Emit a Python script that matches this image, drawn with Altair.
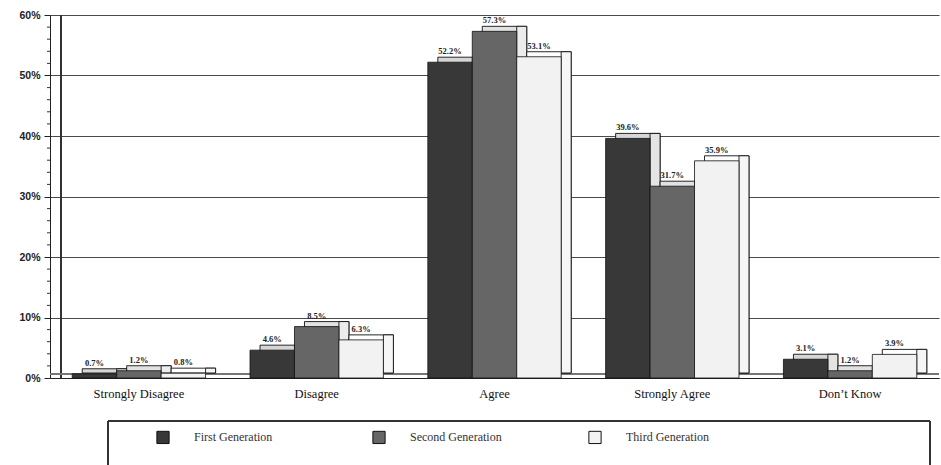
import altair as alt
import pandas as pd

# Survey responses by immigrant generation (percent of respondents)
categories = ["Strongly Disagree", "Disagree", "Agree", "Strongly Agree", "Don\u2019t Know"]
series = ["First Generation", "Second Generation", "Third Generation"]
first_gen = [0.7, 4.6, 52.2, 39.6, 3.1]
second_gen = [1.2, 8.5, 57.3, 31.7, 1.2]
third_gen = [0.8, 6.3, 53.1, 35.9, 3.9]
major_ticks = [0, 10, 20, 30, 40, 50, 60]
minor_ticks = [v for v in range(0, 61, 2) if v % 10]

# Shading for the pseudo-3D boxes: front face, top face, side face
front_colors = ["#383838", "#666666", "#f2f2f2"]
top_colors = ["#d6d6d6", "#e2e2e2", "#ffffff"]
side_colors = ["#e4e4e4", "#ececec", "#f6f6f6"]

rows = []
for s, vals in zip(series, [first_gen, second_gen, third_gen]):
    for c, v in zip(categories, vals):
        rows.append({"category": c, "series": s, "value": v, "label": f"{v}%"})
df = pd.DataFrame(rows)
ticks_df = pd.DataFrame({"tick": minor_ticks})

W, H = 889, 363
DEPTH_X, DEPTH_Y = 10, -5
STEP = W / (5 - 0.25 + 0.25)
SUB = STEP * 0.75 / 3  # width of one bar within a group

x_enc = alt.X(
    "category:N",
    sort=categories,
    scale=alt.Scale(paddingInner=0.25, paddingOuter=0.125),
    axis=alt.Axis(
        title=None,
        labelAngle=0,
        labelFont="Liberation Serif",
        labelFontSize=12.5,
        labelColor="#111",
        labelPadding=9,
        ticks=False,
        domainColor="#222",
        domainWidth=1.2,
    ),
)
y_scale = alt.Scale(domain=[0, 60], nice=False)
y_enc = alt.Y(
    "value:Q",
    scale=y_scale,
    axis=alt.Axis(
        title=None,
        values=major_ticks,
        labelExpr="datum.value + '%'",
        labelFont="Liberation Sans",
        labelFontWeight="bold",
        labelFontSize=10.5,
        labelColor="#222",
        labelPadding=4,
        tickSize=6,
        tickColor="#222",
        domainColor="#222",
        gridColor="#4a4a4a",
        gridWidth=1,
    ),
)

legend = alt.Legend(
    title=None,
    orient="none",
    legendX=100,
    legendY=409,
    direction="horizontal",
    gridAlign="all",
    symbolType="square",
    symbolSize=150,
    symbolStrokeColor="#111",
    symbolStrokeWidth=1,
    labelFont="Liberation Serif",
    labelFontSize=12,
    labelColor="#333",
    labelOffset=24,
    columnPadding=84,
    padding=6,
)

layers = []
for i, s in enumerate(series):
    shift = (i - 1) * SUB
    base = (
        alt.Chart(df)
        .transform_filter(alt.datum.series == s)
        .encode(x=x_enc, y=y_enc)
    )
    # Top face: the box pushed back and up
    top_face = base.mark_bar(
        width=SUB, xOffset=shift + DEPTH_X, yOffset=DEPTH_Y, y2Offset=DEPTH_Y,
        fill=top_colors[i], stroke="#111", strokeWidth=0.9,
    ).encode(y2=alt.datum(0))
    # Side face: narrow strip along the right edge
    side_face = base.mark_bar(
        width=DEPTH_X, xOffset=shift + SUB / 2 + DEPTH_X / 2,
        yOffset=DEPTH_Y, y2Offset=DEPTH_Y,
        fill=side_colors[i], stroke="#111", strokeWidth=0.9,
    ).encode(y2=alt.datum(0))
    front_face = base.mark_bar(
        width=SUB, xOffset=shift, stroke="#111", strokeWidth=0.8, opacity=1,
    ).encode(
        y2=alt.datum(0),
        color=alt.Color(
            "series:N", sort=series,
            scale=alt.Scale(domain=series, range=front_colors),
            legend=legend,
        ),
    )
    label = base.mark_text(
        xOffset=shift, dy=-11, font="Liberation Serif", fontSize=8.5,
        fontWeight="bold", color="#222",
    ).encode(text="label:N")
    layers += [top_face, side_face, front_face, label]

# Minor ticks on the value axis
minor = alt.Chart(ticks_df).mark_rule(color="#333", strokeWidth=1).encode(
    y=alt.Y("tick:Q", scale=y_scale), x=alt.value(-3), x2=alt.value(0)
)

# Back wall edge, floor edge and the frame around the legend
wall = alt.Chart(df).mark_rule(color="#333", strokeWidth=1).encode(
    x=alt.value(11), y=alt.value(0), y2=alt.value(H)
)
floor = alt.Chart(df).mark_rule(color="#777", strokeWidth=1).encode(
    x=alt.value(0), x2=alt.value(W), y=alt.value(H - 4)
)
legend_box = alt.Chart(df).mark_rect(fill=None, stroke="#333", strokeWidth=1).encode(
    x=alt.value(58), x2=alt.value(880), y=alt.value(406), y2=alt.value(470)
)

chart = (
    alt.layer(wall, floor, minor, *layers, legend_box)
    .properties(
        width=W,
        height=H,
        autosize=alt.AutoSizeParams(type="none"),
        padding={"left": 50, "top": 15, "right": 2, "bottom": 87},
        background="white",
    )
    .configure_view(stroke=None)
)

chart.save("out.html", embed_options={"renderer": "svg", "actions": False})
